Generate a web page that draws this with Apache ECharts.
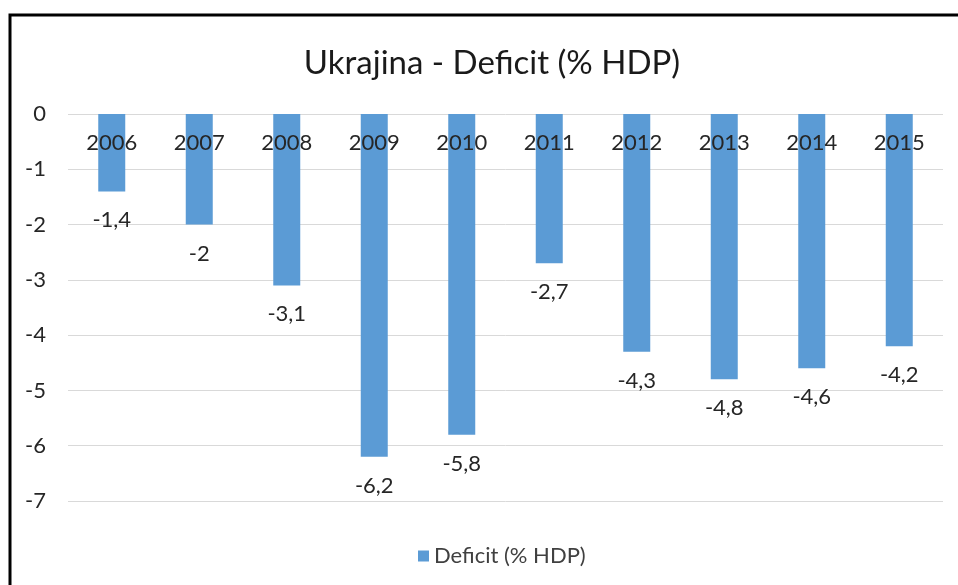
<!DOCTYPE html>
<html>
<head>
<meta charset="utf-8">
<script src="https://cdn.jsdelivr.net/npm/echarts@6/dist/echarts.min.js"></script>
<style>
html, body { margin: 0; padding: 0; background: #fff; }
#container { width: 958px; height: 585px; }
</style>
</head>
<body>
<div id="container"></div>
<script>
var years = ['2006', '2007', '2008', '2009', '2010', '2011', '2012', '2013', '2014', '2015'];
var deficit = [-1.4, -2, -3.1, -6.2, -5.8, -2.7, -4.3, -4.8, -4.6, -4.2];
var seriesName = 'Deficit (% HDP)';
var titleText = 'Ukrajina - Deficit (% HDP)';

var font = 'Lato, "Open Sans", sans-serif';
var dom = document.getElementById('container');
var myChart = echarts.init(dom);
var option = {
	backgroundColor: '#fff',
	textStyle: { fontFamily: font },
	title: {
		text: titleText,
		left: 487,
		top: 42,
		textAlign: 'center',
		textStyle: { fontFamily: font, fontSize: 33, fontWeight: 'normal', color: '#1a1a1a' }
	},
	legend: {
		data: [seriesName],
		icon: 'rect',
		left: 413,
		top: 540,
		itemWidth: 11,
		itemHeight: 11,
		itemGap: 6,
		textStyle: { fontFamily: font, fontSize: 22, color: '#404040' }
	},
	grid: { left: 68, right: 15, top: 114, bottom: 84, containLabel: false },
	xAxis: {
		type: 'category',
		data: years,
		position: 'top',
		z: 10,
		axisLine: { show: false, onZero: false },
		axisTick: { show: false },
		axisLabel: { inside: true, fontFamily: font, fontSize: 22, color: '#262626', margin: 18 }
	},
	yAxis: {
		type: 'value',
		min: -7,
		max: 0,
		interval: 1,
		axisLine: { show: false },
		axisTick: { show: false },
		splitLine: { lineStyle: { color: '#d9d9d9', width: 1 } },
		axisLabel: { fontFamily: font, fontSize: 22, color: '#262626', margin: 22 }
	},
	series: [{
		name: seriesName,
		type: 'bar',
		data: deficit,
		barWidth: 27,
		itemStyle: { color: '#5b9bd5' },
		label: {
			show: true,
			position: 'bottom',
			distance: 18,
			fontFamily: font,
			fontSize: 22,
			color: '#262626',
			formatter: function (p) { return String(p.value).replace('.', ','); }
		}
	}],
	graphic: [{
		type: 'rect',
		shape: { x: 10, y: 15, width: 1000, height: 1000 },
		style: { fill: 'none', stroke: '#000', lineWidth: 3 },
		silent: true
	}]
};
myChart.setOption(option, true);
</script>
</body>
</html>
